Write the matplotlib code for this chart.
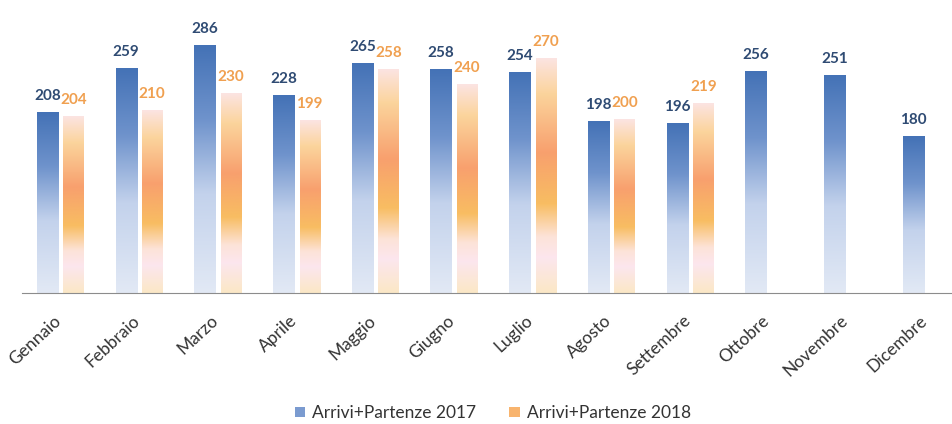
import numpy as np
import matplotlib
matplotlib.use("Agg")
import matplotlib.pyplot as plt
import matplotlib.transforms as mtransforms
from matplotlib.colors import LinearSegmentedColormap
from matplotlib.patches import Patch

mesi = ["Gennaio", "Febbraio", "Marzo", "Aprile", "Maggio", "Giugno",
        "Luglio", "Agosto", "Settembre", "Ottobre", "Novembre", "Dicembre"]
val_2017 = [208, 259, 286, 228, 265, 258, 254, 198, 196, 256, 251, 180]
val_2018 = [204, 210, 230, 199, 258, 240, 270, 200, 219, None, None, None]

plt.rcParams['font.family'] = ['Lato', 'DejaVu Sans']

# gradients from top (0) to bottom (1)
cm_blue = LinearSegmentedColormap.from_list("blu", [
    (0.0, "#4472b6"), (0.3, "#6f93cc"), (0.6, "#c3d2ec"), (1.0, "#e2e9f5")])
cm_orange = LinearSegmentedColormap.from_list("arancio", [
    (0.0, "#fce4e2"), (0.15, "#fbd49c"), (0.4, "#f8a06e"),
    (0.62, "#f8bd62"), (0.76, "#fde3d8"), (0.85, "#fce6ee"), (1.0, "#fbe8c6")])
grad = np.linspace(0, 1, 256).reshape(-1, 1)

fig = plt.figure(figsize=(9.52, 4.24), dpi=100)
ax = fig.add_axes([22/952, (424-293)/424, (952-22)/952, 293/424])

x = np.arange(len(mesi))
w1, w2 = 0.267, 0.254
off1, off2 = -0.159, 0.171

def gradient_bar(xc, w, h, cmap):
    ax.imshow(grad, cmap=cmap, aspect='auto', interpolation='bilinear',
              extent=[xc - w/2, xc + w/2, 0, h], zorder=2)

for i, v in enumerate(val_2017):
    gradient_bar(x[i] + off1, w1, v, cm_blue)
    ax.text(x[i] + off1, v + 11, str(v), ha='center', va='bottom',
            color='#2f4b73', fontsize=11, fontweight='bold')
for i, v in enumerate(val_2018):
    if v is None:
        continue
    gradient_bar(x[i] + off2, w2, v, cm_orange)
    ax.text(x[i] + off2, v + 11, str(v), ha='center', va='bottom',
            color='#f0a050', fontsize=11, fontweight='bold')

ax.set_xlim(-0.48, 11.33)
ax.set_ylim(0, 338)
ax.set_xticks(x)
ax.set_xticklabels(mesi, rotation=43, ha='right', rotation_mode='anchor',
                   fontsize=12.5, color='#333333')
ax.tick_params(axis='x', length=0, pad=14)
shift = mtransforms.ScaledTranslation(-7/100, 0, fig.dpi_scale_trans)
for lab in ax.get_xticklabels():
    lab.set_transform(lab.get_transform() + shift)
ax.set_yticks([])
for s in ['top', 'right', 'left']:
    ax.spines[s].set_visible(False)
ax.spines['bottom'].set_color('#8c8c8c')
ax.spines['bottom'].set_zorder(3)

handles = [Patch(facecolor='#7b9bd0', label='Arrivi+Partenze 2017'),
           Patch(facecolor='#f8b46e', label='Arrivi+Partenze 2018')]
fig.legend(handles=handles, loc='center', bbox_to_anchor=(493/952, 1 - 413/424),
           ncol=2, frameon=False, fontsize=12.5, handlelength=0.6,
           handleheight=0.5, handletextpad=0.4, columnspacing=1.9,
           labelcolor='#333333')

fig.savefig("out.png", dpi=100)
